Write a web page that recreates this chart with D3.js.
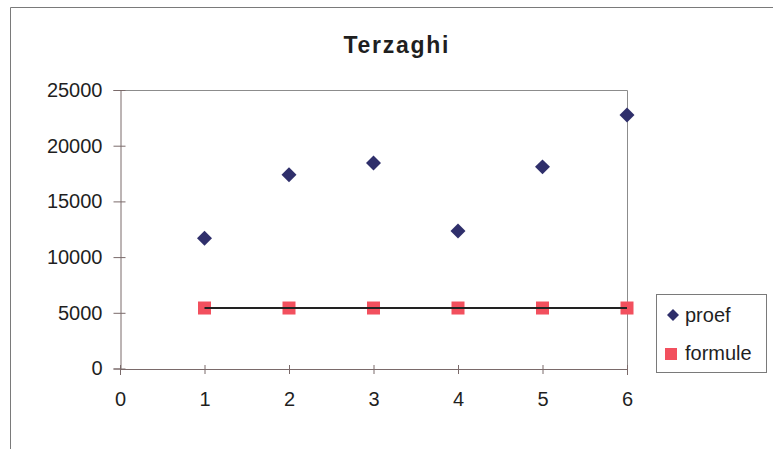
<!DOCTYPE html>
<html>
<head>
<meta charset="utf-8">
<script src="https://cdn.jsdelivr.net/npm/d3@7"></script>
<style>
  html, body { margin: 0; padding: 0; background: #fff; }
  svg { display: block; font-family: "Liberation Sans", Arial, sans-serif; }
</style>
</head>
<body>
<svg id="chart" width="773" height="449"></svg>
<script>
// Terzaghi: measured bearing values (proef) against the formula value (formule)
const testNumbers = [1, 2, 3, 4, 5, 6];
const proefValues = [11700, 17400, 18450, 12350, 18100, 22750];
const formuleValues = [5430, 5430, 5430, 5430, 5430, 5430];
const xTicks = [0, 1, 2, 3, 4, 5, 6];
const yTicks = [0, 5000, 10000, 15000, 20000, 25000];
const seriesNames = ["proef", "formule"];

const svg = d3.select("#chart");
const plot = { left: 120, right: 627, top: 90, bottom: 368.5 };

const x = d3.scaleLinear().domain([0, 6]).range([plot.left, plot.right]);
const y = d3.scaleLinear().domain([0, 25000]).range([plot.bottom, plot.top]);

const textColor = "#1f1f1f";
const axisColor = "#7a6a6a";
const fontFamily = "'Liberation Sans', Arial, sans-serif";

// outer chart frame
svg.append("path")
  .attr("d", "M10.5,449 V7.5 H773")
  .attr("fill", "none")
  .attr("stroke", "#7a7a7a")
  .attr("stroke-width", 1);

// title
svg.append("text")
  .attr("x", 396).attr("y", 53)
  .attr("text-anchor", "middle")
  .attr("font-size", 23).attr("font-weight", "bold")
  .attr("fill", textColor)
  .attr("textLength", 105)
  .attr("lengthAdjust", "spacing")
  .text("Terzaghi");

// plot area border (top and right)
svg.append("path")
  .attr("d", `M${plot.left},${plot.top + 0.5} H${plot.right + 0.5} V${plot.bottom}`)
  .attr("fill", "none")
  .attr("stroke", "#8c8c8c")
  .attr("stroke-width", 1);

// y axis
const yAxis = svg.append("g")
  .attr("transform", `translate(${plot.left + 0.5},0)`)
  .call(d3.axisLeft(y).tickValues(yTicks).tickSize(7).tickPadding(11).tickFormat(d3.format("d")));
yAxis.selectAll(".tick line").attr("x2", -7).attr("x1", 5);

// x axis
const xAxis = svg.append("g")
  .attr("transform", `translate(0,${plot.bottom + 0.5})`)
  .call(d3.axisBottom(x).tickValues(xTicks).tickSize(6).tickPadding(17).tickFormat(d3.format("d")));
xAxis.selectAll(".tick line").attr("y1", -4).attr("y2", 5);

[yAxis, xAxis].forEach(g => {
  g.select(".domain").attr("stroke", axisColor);
  g.selectAll(".tick line").attr("stroke", axisColor);
  g.selectAll(".tick text")
    .attr("font-size", 20)
    .attr("fill", textColor)
    .attr("font-family", fontFamily);
});
xAxis.selectAll(".tick text").attr("dy", "0.71em");

const diamondColor = "#2f2f6b";
const squareColor = "#f2505e";

const line = d3.line().x((d, i) => x(testNumbers[i])).y(d => y(d));

// formule markers
const sq = 13;
svg.append("g").selectAll("rect")
  .data(formuleValues)
  .join("rect")
  .attr("x", (d, i) => x(testNumbers[i]) - sq / 2)
  .attr("y", d => y(d) - sq / 2)
  .attr("width", sq).attr("height", sq)
  .attr("fill", squareColor);

// formule connecting line, drawn over the markers
svg.append("path")
  .datum(formuleValues)
  .attr("d", line)
  .attr("fill", "none")
  .attr("stroke", "#222")
  .attr("stroke-width", 2);

// proef markers (diamonds)
svg.append("g").selectAll("path")
  .data(proefValues)
  .join("path")
  .attr("d", d3.symbol().type(d3.symbolSquare).size(112))
  .attr("transform", (d, i) => `translate(${x(testNumbers[i])},${y(d)}) rotate(45)`)
  .attr("fill", diamondColor);

// legend
const legend = svg.append("g");
legend.append("rect")
  .attr("x", 656.5).attr("y", 294.5)
  .attr("width", 110).attr("height", 78)
  .attr("fill", "#fff")
  .attr("stroke", "#7a7a7a");

const legendItems = legend.selectAll("g.item")
  .data(seriesNames)
  .join("g")
  .attr("class", "item")
  .attr("transform", (d, i) => `translate(672,${316 + i * 38})`);

legendItems.each(function(d, i) {
  const g = d3.select(this);
  if (i === 0) {
    g.append("path")
      .attr("d", d3.symbol().type(d3.symbolSquare).size(72))
      .attr("transform", "translate(1,-1) rotate(45)")
      .attr("fill", diamondColor);
  } else {
    g.append("rect")
      .attr("x", -7).attr("y", -6)
      .attr("width", 12).attr("height", 12)
      .attr("fill", squareColor);
  }
  g.append("text")
    .attr("x", 13).attr("y", 0)
    .attr("dy", "0.32em")
    .attr("font-size", 20)
    .attr("fill", textColor)
    .text(d);
});
</script>
</body>
</html>
